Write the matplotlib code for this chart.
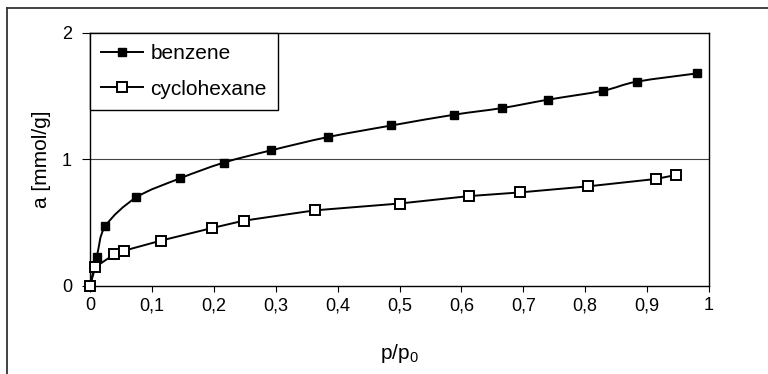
import matplotlib
matplotlib.use("Agg")
import matplotlib.pyplot as plt
import numpy as np
from matplotlib.path import Path
from matplotlib.patches import PathPatch
from matplotlib.lines import Line2D
from matplotlib.ticker import FuncFormatter

plt.rcParams['font.family'] = ['Liberation Sans', 'DejaVu Sans']

# Data
benzene_x = [0.0, 0.011, 0.025, 0.075, 0.145, 0.216, 0.293, 0.385, 0.487, 0.588,
             0.666, 0.740, 0.829, 0.883, 0.981]
benzene_y = [0.0, 0.232, 0.474, 0.701, 0.850, 0.975, 1.073, 1.178, 1.269, 1.354,
             1.407, 1.473, 1.544, 1.615, 1.681]
cyclo_x = [0.0, 0.0086, 0.039, 0.055, 0.114, 0.197, 0.248, 0.363, 0.500, 0.613,
           0.695, 0.805, 0.914, 0.946]
cyclo_y = [0.0, 0.150, 0.250, 0.279, 0.358, 0.458, 0.516, 0.598, 0.652, 0.711,
           0.740, 0.788, 0.846, 0.877]
x_ticks = [0, 0.1, 0.2, 0.3, 0.4, 0.5, 0.6, 0.7, 0.8, 0.9, 1]
y_ticks = [0, 1, 2]


def smooth_path(xs, ys):
    """Excel-like smoothed line (Catmull-Rom as cubic Bezier)."""
    P = np.column_stack([xs, ys])
    n = len(P)
    verts = [P[0]]
    codes = [Path.MOVETO]
    for i in range(n - 1):
        p0 = P[i - 1] if i > 0 else P[i]
        p1 = P[i]
        p2 = P[i + 1]
        p3 = P[i + 2] if i + 2 < n else P[i + 1]
        c1 = p1 + (p2 - p0) / 6.0
        c2 = p2 - (p3 - p1) / 6.0
        verts += [c1, c2, p2]
        codes += [Path.CURVE4] * 3
    return Path(verts, codes)


fig = plt.figure(figsize=(7.68, 3.74), dpi=100)
ax = fig.add_axes([90 / 768, 1 - 286 / 374, (709 - 90) / 768, (286 - 33) / 374])

ax.set_xlim(0, 1)
ax.set_ylim(0, 2)

# grid line at y=1
ax.axhline(1, color='#444444', lw=0.8, zorder=1)

# benzene: smoothed line + filled square markers
ax.add_patch(PathPatch(smooth_path(benzene_x, benzene_y), fill=False,
                       edgecolor='black', lw=1.4, zorder=2))
ax.plot(benzene_x, benzene_y, ls='none', marker='s', ms=5.2, color='black',
        zorder=3, clip_on=False)

# cyclohexane: line + open square markers
ax.plot(cyclo_x, cyclo_y, color='black', lw=1.4, marker='s', ms=7.2,
        markerfacecolor='white', markeredgecolor='black', markeredgewidth=1.4,
        zorder=4, clip_on=False)

ax.set_xticks(x_ticks)
ax.set_yticks(y_ticks)
fmt = FuncFormatter(lambda v, p: ('%g' % v).replace('.', ','))
ax.xaxis.set_major_formatter(fmt)
ax.yaxis.set_major_formatter(fmt)
ax.tick_params(axis='x', direction='out', length=4, width=0.8, pad=4, labelsize=13)
ax.tick_params(axis='y', direction='out', length=6, width=0.8, pad=7, labelsize=13)
for s in ax.spines.values():
    s.set_linewidth(1.0)
    s.set_color('black')

ax.set_xlabel('p/p$_\\mathregular{0}$', fontsize=15, labelpad=20)
ax.set_ylabel('a [mmol/g]', fontsize=15, labelpad=8)

handles = [
    Line2D([], [], color='black', lw=1.4, marker='s', ms=5.2),
    Line2D([], [], color='black', lw=1.4, marker='s', ms=7.2,
           markerfacecolor='white', markeredgewidth=1.4),
]
leg = ax.legend(handles, ['benzene', 'cyclohexane'], loc='upper left',
                bbox_to_anchor=(0, 1), borderaxespad=0, fontsize=15,
                frameon=True, fancybox=False, edgecolor='black',
                handlelength=2.0, handletextpad=0.35, borderpad=0.55,
                labelspacing=0.78)
leg.get_frame().set_linewidth(1.0)
leg.get_frame().set_alpha(1)

# outer frame (left and top edges)
fig.add_artist(Line2D([7 / 768, 7 / 768], [0, 1 - 8 / 374], color='#333333',
                      lw=1.3, transform=fig.transFigure))
fig.add_artist(Line2D([7 / 768, 1], [1 - 8 / 374, 1 - 8 / 374], color='#333333',
                      lw=1.3, transform=fig.transFigure))

fig.savefig('out.png', dpi=100)
